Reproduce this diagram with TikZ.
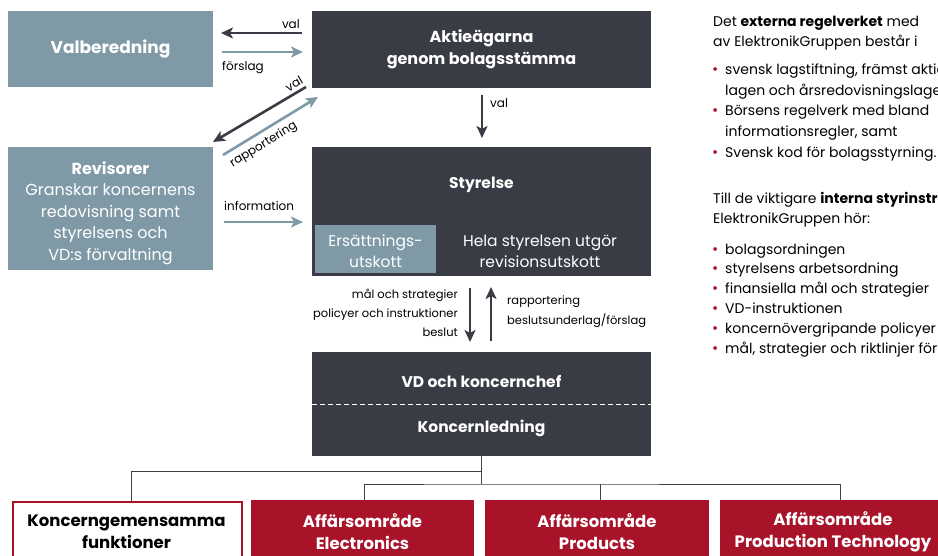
\documentclass[tikz,border=0pt]{standalone}
\usepackage{fontspec}
\setmainfont{Poppins}
\usetikzlibrary{arrows.meta,calc}
\definecolor{dk}{HTML}{393C45}
\definecolor{gb}{HTML}{7F9AA6}
\definecolor{rd}{HTML}{A8132A}
\definecolor{tr}{HTML}{404040}
\tikzset{
  box/.style={inner sep=0pt, align=center, text=white},
  darkbox/.style={box, fill=dk},
  greybox/.style={box, fill=gb},
  redbox/.style={box, fill=rd},
  arrd/.style={draw=dk, line width=2.6pt, -{Stealth[length=12pt,width=11pt,inset=3pt]}},
  arrl/.style={draw=gb, line width=2.6pt, -{Stealth[length=12pt,width=11pt,inset=3pt]}},
  lbl/.style={inner sep=0pt, font=\fontsize{12}{15}\selectfont, text=black},
  slbl/.style={lbl, font=\fontsize{11.5}{14}\selectfont},
  tree/.style={draw=tr, line width=0.9pt},
  rt/.style={anchor=base west, inner sep=0pt, font=\fontsize{14}{17}\selectfont},
  bul/.style={anchor=base west, inner sep=0pt, font=\fontsize{15}{17}\selectfont, text=rd},
  bt/.style={font=\fontsize{16.5}{22}\selectfont\bfseries}
}
\begin{document}
\begin{tikzpicture}[x=1pt,y=-1pt]
\useasboundingbox (0,0) rectangle (938,555);
\clip (0,0) rectangle (938,555);
\fill[white] (0,0) rectangle (938,555);

% boxes
\node[greybox, minimum width=205pt, minimum height=76pt, font=\fontsize{17}{22}\selectfont\bfseries] (valb) at (110.5,49) {Valberedning};
\node[darkbox, minimum width=339pt, minimum height=77pt, font=\fontsize{16}{22}\selectfont\bfseries] (akt) at (481.5,49.5) {Aktieägarna\\genom bolagsstämma};
\node[greybox, minimum width=205pt, minimum height=123pt] (rev) at (110.5,208.5) {};
\node[box, font=\fontsize{16}{21.5}\selectfont] (revt) at (110.5,213) {\textbf{Revisorer}\\Granskar koncernens\\redovisning samt\\styrelsens och\\VD:s förvaltning};
\node[darkbox, minimum width=339pt, minimum height=129pt] (sty) at (481.5,211.5) {};
\node[box, font=\fontsize{15.5}{20}\selectfont\bfseries] (styt) at (481.5,185) {Styrelse};
\node[greybox, minimum width=121pt, minimum height=48pt] (ers) at (375.5,249) {};
\node[box, font=\fontsize{15.5}{21}\selectfont] (erst) at (375.5,251) {Ersättnings-\\utskott};
\node[box, font=\fontsize{15.5}{21}\selectfont] (hela) at (540,251) {Hela styrelsen utgör\\revisionsutskott};
\node[darkbox, minimum width=339pt, minimum height=104pt] (vd) at (481.5,404) {};
\node[box, font=\fontsize{15.5}{20}\selectfont\bfseries] (vdt) at (481.5,381) {VD och koncernchef};
\node[box, font=\fontsize{15.5}{20}\selectfont\bfseries] (kl) at (481.5,428) {Koncernledning};
\draw[white, line width=1pt, dash pattern=on 5pt off 3pt] (vd.west) -- (vd.east);

% bottom boxes
\node[box, fill=white, draw=rd, line width=2pt, minimum width=229pt, minimum height=62pt, anchor=north west, text=black] (kon) at (12,501) {};
\node[box, text=black, bt] at (126.5,532) {Koncerngemensamma\\funktioner};
\node[redbox, minimum width=223pt, minimum height=62pt, anchor=north west] (el) at (251,500) {};
\node[box, bt] at (362.5,532) {Affärsområde\\Electronics};
\node[redbox, minimum width=224pt, minimum height=62pt, anchor=north west] (pr) at (485,500) {};
\node[box, bt] at (597,532) {Affärsområde\\Products};
\node[redbox, minimum width=230pt, minimum height=62pt, anchor=north west] (pt) at (720,500) {};
\node[box, bt] at (833,532) {Affärsområde\\Production Technology};

% tree
\coordinate (t1) at (vd.south |- 0,471);
\coordinate (t2) at (vd.south |- 0,484);
\draw[tree] (vd.south) -- (t2);
\draw[tree] (t1) -| ([xshift=4pt]kon.north);
\draw[tree] ([xshift=2pt]el.north) |- (t2) -| ([xshift=5pt]pt.north);
\draw[tree] ([xshift=3pt]pr.north) -- ([xshift=3pt]pr.north |- t2);

% arrows
\coordinate (a1s) at (302,33); \coordinate (a1e) at (221,33);
\draw[arrd] (a1s) -- (a1e);
\node[lbl, anchor=base east] (l1) at (300,28) {val};
\coordinate (a2s) at (222,52); \coordinate (a2e) at (303,52);
\draw[arrl] (a2s) -- (a2e);
\node[lbl, anchor=base west] (l2) at (222,70) {förslag};
\coordinate (a3s) at (306,87); \coordinate (a3e) at (213,142);
\draw[arrd] (a3s) -- (a3e) node[lbl, pos=0.08, sloped, above=3pt] (l3) {val};
\coordinate (a4s) at (223,155); \coordinate (a4e) at (318,97);
\draw[arrl] (a4s) -- (a4e) node[lbl, pos=0.36, sloped, below=5pt] (l4) {rapportering};
\coordinate (a5s) at (482,95); \coordinate (a5e) at (482,138);
\draw[arrd] (a5s) -- (a5e);
\node[lbl, anchor=base west] (l5) at (490,107) {val};
\coordinate (a6s) at (224,222); \coordinate (a6e) at (303,222);
\draw[arrl] (a6s) -- (a6e);
\node[lbl, anchor=base west] (l6) at (224,210) {information};
\coordinate (a7s) at (470,288); \coordinate (a7e) at (470,342);
\draw[arrd] (a7s) -- (a7e);
\coordinate (a8s) at (491,341); \coordinate (a8e) at (491,287);
\draw[arrd] (a8s) -- (a8e);
\node[slbl, anchor=base east] (l7) at (458,298) {mål och strategier};
\node[slbl, anchor=base east] (l8) at (458,317) {policyer och instruktioner};
\node[slbl, anchor=base east] (l9) at (458,336) {beslut};
\node[slbl, anchor=base west] (l10) at (507,304) {rapportering};
\node[slbl, anchor=base west] (l11) at (507,324) {beslutsunderlag/förslag};

% right text (cut off at the right edge, as in the reference)
\node[rt] at (713,26) {Det \textbf{externa regelverket} med};
\node[rt] at (713,46.5) {av ElektronikGruppen består i};
\node[bul] at (712,74) {•}; \node[rt] at (725,74) {svensk lagstiftning, främst aktiebolags-};
\node[rt] at (725,95) {lagen och årsredovisningslagen,};
\node[bul] at (712,115) {•}; \node[rt] at (725,115) {Börsens regelverk med bland};
\node[rt] at (725,136) {informationsregler, samt};
\node[bul] at (712,157) {•}; \node[rt] at (725,157) {Svensk kod för bolagsstyrning.};
\node[rt] at (713,203) {Till de viktigare \textbf{interna styrinstrumenten}};
\node[rt] at (713,223) {ElektronikGruppen hör:};
\node[bul] at (712,254) {•}; \node[rt] at (725,254) {bolagsordningen};
\node[bul] at (712,273) {•}; \node[rt] at (725,273) {styrelsens arbetsordning};
\node[bul] at (712,293) {•}; \node[rt] at (725,293) {finansiella mål och strategier};
\node[bul] at (712,313) {•}; \node[rt] at (725,313) {VD-instruktionen};
\node[bul] at (712,333) {•}; \node[rt] at (725,333) {koncernövergripande policyer};
\node[bul] at (712,353) {•}; \node[rt] at (725,353) {mål, strategier och riktlinjer för};
\end{tikzpicture}
\end{document}
